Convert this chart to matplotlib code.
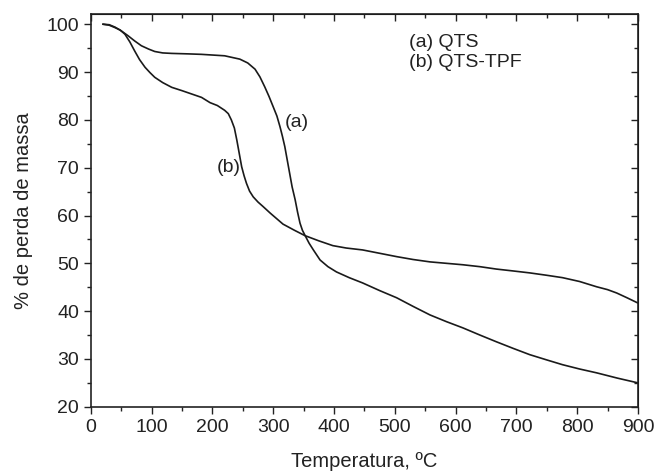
import matplotlib
matplotlib.use('Agg')
from matplotlib import pyplot as plt
from matplotlib.ticker import MultipleLocator

# curva (a) QTS
temp_a = [20, 30, 39.5, 50, 61, 72, 83, 95, 105, 118, 133, 160, 182, 220, 245, 258, 270, 278, 286, 293,
          300, 306, 311, 315, 319, 323, 327, 331, 336, 340, 344, 348, 352, 359, 366, 377, 390, 404, 425,
          447, 475, 503, 530, 558, 585, 612, 640, 667, 695, 722, 750, 776, 804, 832, 866, 900]
massa_a = [100, 99.9, 99.4, 98.6, 97.6, 96.5, 95.5, 94.8, 94.3, 94.0, 93.9, 93.8, 93.7, 93.4, 92.7, 91.9, 90.6, 89.0, 86.9, 84.9,
           82.7, 80.8, 78.6, 76.6, 74.4, 71.6, 68.8, 66.0, 63.3, 60.7, 58.4, 56.9, 55.9, 54.2, 52.8, 50.7, 49.3, 48.2, 47.0,
           45.9, 44.3, 42.8, 41.0, 39.2, 37.8, 36.5, 35.0, 33.6, 32.2, 30.9, 29.8, 28.8, 27.9, 27.1, 26.0, 25]

# curva (b) QTS-TPF
temp_b = [20, 30, 39.5, 48, 56, 64, 72, 80, 89, 97, 105, 118, 133, 150, 166, 182, 196, 208, 220, 226, 231,
          236, 240, 244, 248, 252, 256, 261, 267, 275, 283, 295, 316, 335, 352, 375, 398, 420, 447, 475, 503,
          530, 558, 585, 612, 640, 667, 695, 722, 750, 776, 804, 832, 850, 865, 882, 900]
massa_b = [100, 99.8, 99.3, 98.8, 97.9, 96.3, 94.4, 92.6, 91.0, 89.9, 88.9, 87.8, 86.8, 86.1, 85.4, 84.7, 83.6, 83.0, 82.0, 81.3, 80.0,
           78.3, 75.8, 73.0, 70.2, 68.3, 66.7, 65.1, 63.9, 62.8, 61.9, 60.5, 58.2, 56.9, 55.8, 54.7, 53.7, 53.2, 52.8, 52.1, 51.4,
           50.8, 50.3, 50.0, 49.7, 49.3, 48.8, 48.4, 48.0, 47.5, 47, 46.2, 45.1, 44.5, 43.8, 42.8, 41.7]

plt.rcParams['font.family'] = ['Liberation Sans', 'DejaVu Sans']

fig = plt.figure(figsize=(6.59, 4.73), dpi=100)
ax = fig.add_axes([0.138, 0.140, 0.830, 0.830])

ax.plot(temp_a, massa_a, c='#1a1a1a', lw=1.2)
ax.plot(temp_b, massa_b, c='#1a1a1a', lw=1.2)

ax.set_xlim(0, 900)
ax.set_ylim(20, 102.1)
ax.xaxis.set_major_locator(MultipleLocator(100))
ax.xaxis.set_minor_locator(MultipleLocator(50))
ax.yaxis.set_major_locator(MultipleLocator(10))
ax.yaxis.set_minor_locator(MultipleLocator(5))
ax.tick_params(which='both', direction='out', labelsize=14, color='#222222', labelcolor='#222222')
ax.tick_params(which='major', length=5, width=1)
ax.tick_params(which='minor', length=3, width=1)

# ticks para dentro em cima e a direita
ax2 = ax.secondary_xaxis('top')
ax2.xaxis.set_major_locator(MultipleLocator(100))
ax2.xaxis.set_minor_locator(MultipleLocator(50))
ax2.tick_params(which='both', direction='in', labeltop=False, color='#222222')
ax2.tick_params(which='major', length=5, width=1)
ax2.tick_params(which='minor', length=3, width=1)
ax3 = ax.secondary_yaxis('right')
ax3.yaxis.set_major_locator(MultipleLocator(10))
ax3.yaxis.set_minor_locator(MultipleLocator(5))
ax3.tick_params(which='both', direction='in', labelright=False, color='#222222')
ax3.tick_params(which='major', length=5, width=1)
ax3.tick_params(which='minor', length=3, width=1)

for s in ax.spines.values():
    s.set_color('#222222')
    s.set_linewidth(1.2)

ax.set_xlabel('Temperatura, ºC', fontsize=14.5, color='#222222', labelpad=12)
ax.set_ylabel('% de perda de massa', fontsize=14.5, color='#222222', labelpad=10)

ax.text(523, 96.2, '(a) QTS', fontsize=14, color='#222222', va='center')
ax.text(523, 92.0, '(b) QTS-TPF', fontsize=14, color='#222222', va='center')
ax.text(319, 79.5, '(a)', fontsize=14, color='#222222', va='center')
ax.text(207, 70.1, '(b)', fontsize=14, color='#222222', va='center')

plt.savefig('out.png')
